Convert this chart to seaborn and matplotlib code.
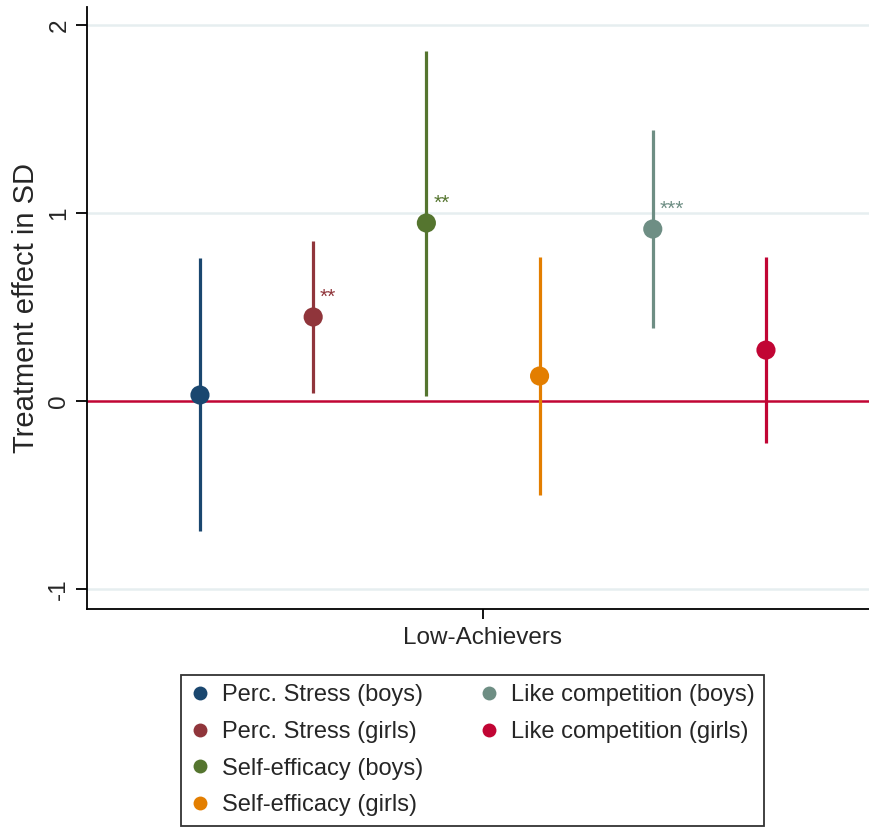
import numpy as np
import pandas as pd
import seaborn as sns
from matplotlib import pyplot as plt
from matplotlib.lines import Line2D

# values (treatment effects in SD with 95% CI)
outcomes = ["Perc. Stress (boys)", "Perc. Stress (girls)", "Self-efficacy (boys)",
            "Self-efficacy (girls)", "Like competition (boys)", "Like competition (girls)"]
estimates = [0.032, 0.447, 0.947, 0.133, 0.915, 0.271]
ci_low = [-0.69, 0.043, 0.027, -0.50, 0.388, -0.223]
ci_high = [0.76, 0.851, 1.862, 0.766, 1.441, 0.766]
stars = ["", "**", "**", "", "***", ""]
colors = ["#1a476f", "#90353b", "#55752f", "#e37e00", "#6e8e84", "#c10534"]
group_label = "Low-Achievers"

df = pd.DataFrame({"outcome": outcomes, "est": estimates, "lo": ci_low, "hi": ci_high, "star": stars})
df["pos"] = np.arange(len(df)) - (len(df) - 1) / 2

sns.set_style("white")
plt.rcParams["font.family"] = ["Liberation Sans", "DejaVu Sans"]

fig = plt.figure(figsize=(8.7, 8.3), dpi=100)
ax = fig.add_axes([0.1, 0.2663, 0.9, 0.7253])

# light grid
for g in [-1, 1, 2]:
    ax.axhline(g, color="#e6eef0", lw=1.8, zorder=0)
ax.axhline(0, color="#c10534", lw=1.8, zorder=1)

pal = dict(zip(outcomes, colors))
ax.vlines(df["pos"], df["lo"], df["hi"], colors=colors, lw=2.3, zorder=2)
sns.scatterplot(data=df, x="pos", y="est", hue="outcome", palette=pal, s=190,
                edgecolor="none", ax=ax, zorder=3, legend=True)

for _, r in df.iterrows():
    if r["star"]:
        ax.annotate(r["star"], (r["pos"], r["est"]), xytext=(5.0, 14.5),
                    textcoords="offset points", ha="left", va="center",
                    fontsize=15, color=pal[r["outcome"]])

ax.set_xlim(-3.498, 3.419)
ax.set_ylim(-1.106, 2.096)
ax.set_xticks([0])
ax.set_xticklabels([group_label], fontsize=17.5)
ax.set_yticks([-1, 0, 1, 2])
ax.set_yticklabels(["-1", "0", "1", "2"], fontsize=17.5, rotation=90, va="center")
ax.set_xlabel("")
ax.set_ylabel("Treatment effect in SD", fontsize=21, labelpad=6)
ax.tick_params(axis="y", length=8, width=1.3, color="black", pad=4, left=True)
ax.tick_params(axis="x", length=7, width=1.3, color="black", pad=6, bottom=True)
for side in ["top", "right"]:
    ax.spines[side].set_visible(False)
for side in ["left", "bottom"]:
    ax.spines[side].set_color("black")
    ax.spines[side].set_linewidth(1.3)

handles, labels = ax.get_legend_handles_labels()
ax.legend_.remove()
for h in handles:
    h.set_markersize(10)
# 4 entries in the first column, 2 in the second
blank = Line2D([], [], linestyle="none", marker="")
handles = handles + [blank, blank]
labels = labels + ["", ""]
leg = fig.legend(handles, labels, loc="upper left", bbox_to_anchor=(0.208, 0.1867),
                 ncol=2, fontsize=17, frameon=True, fancybox=False,
                 handlelength=0.8, handletextpad=0.53, columnspacing=2.4,
                 labelspacing=0.62, borderpad=0.4, borderaxespad=0)
leg.get_frame().set_edgecolor("black")
leg.get_frame().set_linewidth(1.3)

fig.savefig("out.png", dpi=100)
